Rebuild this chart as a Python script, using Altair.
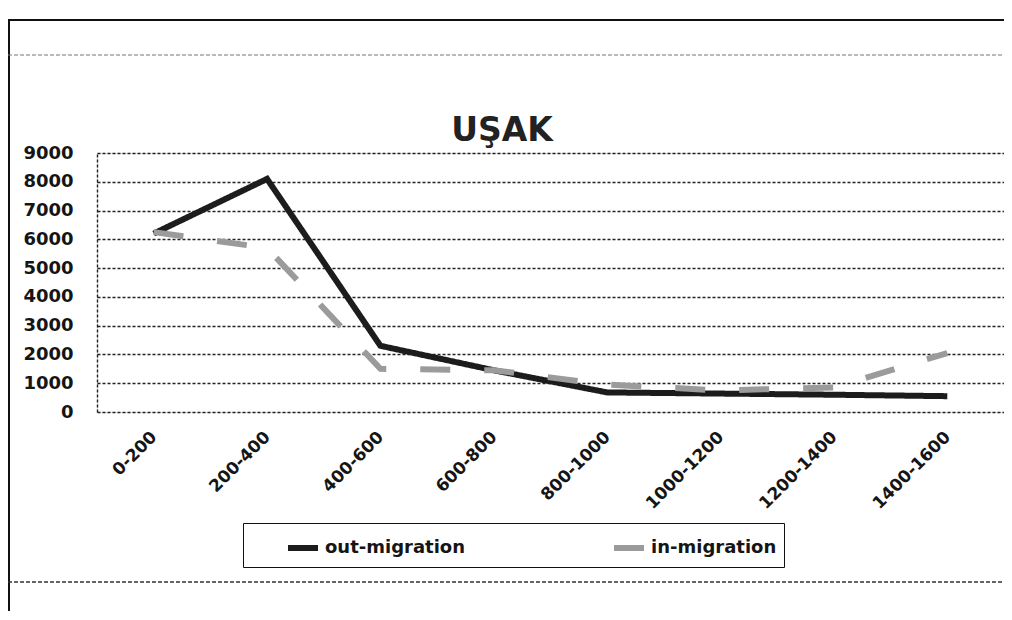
import altair as alt
import pandas as pd

categories = ["0-200", "200-400", "400-600", "600-800", "800-1000",
              "1000-1200", "1200-1400", "1400-1600"]
out_migration = [6200, 8100, 2300, 1450, 680, 640, 600, 550]
in_migration = [6250, 5700, 1500, 1450, 950, 750, 850, 2050]
series_names = ["out-migration", "in-migration"]
y_ticks = [0, 1000, 2000, 3000, 4000, 5000, 6000, 7000, 8000, 9000]
title_text = ["UŞAK"]

rows = []
for c, o, i in zip(categories, out_migration, in_migration):
    rows.append({"category": c, "series": series_names[0], "value": o})
    rows.append({"category": c, "series": series_names[1], "value": i})
df = pd.DataFrame(rows)

FONT = "DejaVu Sans"

lines = alt.Chart(df).mark_line(strokeWidth=6, strokeCap="butt").encode(
    x=alt.X("category:N", sort=categories, title=None,
            axis=alt.Axis(labelAngle=-45, labelAlign="right", labelBaseline="middle",
                          labelPadding=22, ticks=False, domain=False, grid=False,
                          labelFont=FONT, labelFontSize=17, labelFontWeight="bold",
                          labelColor="#151515")),
    y=alt.Y("value:Q", title=None,
            scale=alt.Scale(domain=[0, 9000], nice=False),
            axis=alt.Axis(values=y_ticks, format="d", ticks=False, grid=True,
                          gridDash=[3, 2], gridColor="#222", gridWidth=1.4, domain=True,
                          domainDash=[3, 2], domainColor="#222", domainWidth=1.4,
                          labelPadding=24, labelFont=FONT, labelFontSize=18,
                          labelFontWeight="bold", labelColor="#151515")),
    color=alt.Color("series:N", sort=series_names,
                    scale=alt.Scale(domain=series_names, range=["#1c1c1c", "#9b9b9b"]),
                    legend=alt.Legend(orient="none", legendX=146, legendY=370,
                                      direction="horizontal", title=None,
                                      strokeColor="#111", padding=7,
                                      symbolType="stroke", symbolSize=900,
                                      symbolStrokeWidth=6, symbolOffset=35,
                                      labelFont=FONT, labelFontWeight="bold",
                                      labelFontSize=18, labelColor="#151515",
                                      columnPadding=110, labelOffset=4)),
    strokeDash=alt.StrokeDash("series:N", sort=series_names,
                              scale=alt.Scale(domain=series_names,
                                              range=[[1, 0], [30, 34]]),
                              legend=alt.Legend(orient="none", legendX=146, legendY=370,
                                                direction="horizontal", title=None)),
)

title = alt.Chart(pd.DataFrame({"t": title_text})).mark_text(
    font=FONT, fontSize=33, fontWeight="bold", color="#222", baseline="alphabetic"
).encode(text="t:N", x=alt.value(405), y=alt.value(-12))

frame_top = alt.Chart(pd.DataFrame({"a": [0]})).mark_rule(color="#111", strokeWidth=2).encode(
    x=alt.value(-89), x2=alt.value(915), y=alt.value(-133))
frame_left = alt.Chart(pd.DataFrame({"a": [0]})).mark_rule(color="#111", strokeWidth=2).encode(
    x=alt.value(-88), y=alt.value(-133), y2=alt.value(470))
dash_top = alt.Chart(pd.DataFrame({"a": [0]})).mark_rule(color="#777", strokeWidth=1.2,
                                                          strokeDash=[4, 2]).encode(
    x=alt.value(-89), x2=alt.value(908), y=alt.value(-98))
dash_bottom = alt.Chart(pd.DataFrame({"a": [0]})).mark_rule(color="#333", strokeWidth=1.4,
                                                             strokeDash=[4, 2]).encode(
    x=alt.value(-89), x2=alt.value(915), y=alt.value(429))

chart = alt.layer(frame_top, frame_left, dash_top, dash_bottom, lines, title).properties(
    width=907, height=259,
    autosize=alt.AutoSizeParams(type="none"),
    padding={"left": 89, "top": 145, "right": 0, "bottom": 199},
).configure_view(stroke=None).configure(background="white")

chart.save("out.html", embed_options={"renderer": "svg", "actions": False})
